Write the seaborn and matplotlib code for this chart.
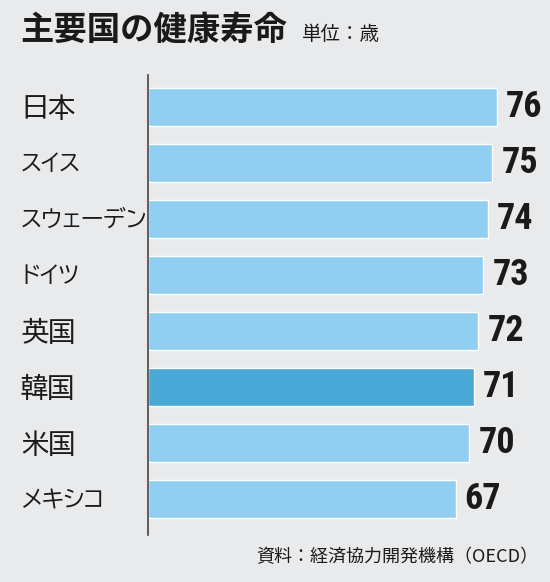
import matplotlib
matplotlib.use("Agg")
import matplotlib.pyplot as plt
import seaborn as sns
import pandas as pd

countries = ["日本", "スイス", "スウェーデン", "ドイツ", "英国", "韓国", "米国", "メキシコ"]
years = [76, 75, 74, 73, 72, 71, 70, 67]
highlight = "韓国"

title = "主要国の健康寿命"
unit = "単位：歳"
source = "資料：経済協力開発機構（OECD）"

BG = "#e9eaec"
LIGHT = "#90cff2"
DARK = "#4aa8d6"
INK = "#1a1a1a"

sns.set_theme(style="white")
plt.rcParams["font.family"] = ["Noto Sans CJK JP", "DejaVu Sans"]

df = pd.DataFrame({"country": countries, "years": years})
colors = [DARK if c == highlight else LIGHT for c in countries]

fig = plt.figure(figsize=(5.5, 5.82), dpi=100, facecolor=BG)
ax = fig.add_axes([148 / 550, 1 - 535 / 582, 392 / 550, 460 / 582])
ax.set_facecolor(BG)

sns.barplot(data=df, x="years", y="country", hue="country", palette=colors,
            legend=False, width=0.68, ax=ax, saturation=1)

ax.set_xlim(0, 392 / 4.59)
ax.set_ylim(7.643, -0.571)
ax.set_xlabel("")
ax.set_ylabel("")
ax.set_xticks([])
ax.set_yticks([])
for s in ["top", "right", "bottom"]:
    ax.spines[s].set_visible(False)
ax.spines["left"].set_color("#444444")
ax.spines["left"].set_linewidth(1.2)

# numbers next to bars, condensed bold
num_font = ["Roboto Condensed", "Archivo Narrow", "DejaVu Sans"]
for i, v in enumerate(years):
    ax.text(v + 2.0, i, str(v), va="center", ha="left", fontsize=26,
            fontweight="bold", fontstretch="condensed", family=num_font,
            color=INK)

# country names; katakana names set a bit smaller so they fit like the original
for i, c in enumerate(countries):
    kana = all(ch >= "\u30a0" and ch <= "\u30ff" for ch in c)
    ax.text(-127 / 4.59, i, c, va="center", ha="left",
            fontsize=16.4 if kana else 19.5,
            family=["BIZ UDPGothic", "Noto Sans CJK JP"], color=INK,
            clip_on=False)

fig.text(20 / 550, 1 - 30 / 582, title, fontsize=24, fontweight="bold",
         va="center", ha="left", color=INK)
fig.text(302 / 550, 1 - 35 / 582, unit, fontsize=14, va="center",
         ha="left", color=INK)
fig.text(538 / 550, 1 - 557 / 582, source, fontsize=13, va="center",
         ha="right", color=INK)

fig.savefig("out.png", dpi=100, facecolor=BG)
